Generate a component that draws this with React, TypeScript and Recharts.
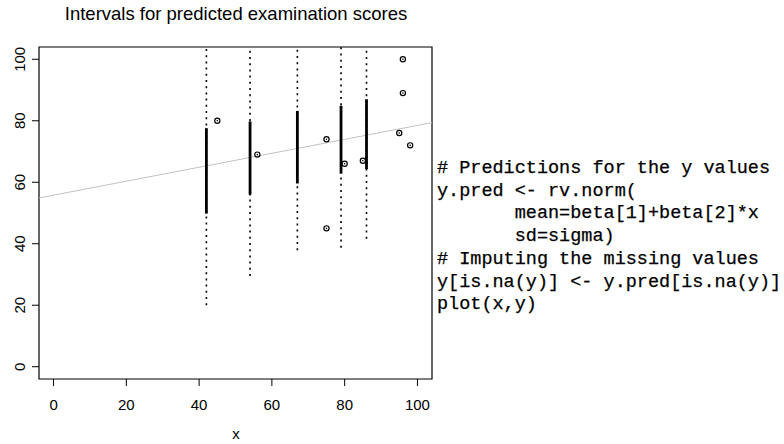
import React from 'react';
import { ScatterChart, Scatter, XAxis, YAxis, ReferenceLine, ReferenceArea } from 'recharts';

// prediction intervals at the missing x values
const predX = [42, 54, 67, 79, 86];
const innerLo = [49.8, 56, 59.6, 62.8, 64.3];
const innerHi = [77.6, 79.8, 83.2, 84.9, 87];
const outerLo = [20, 29.5, 37.9, 38.7, 41.6];
const outerHi = [107, 106, 105, 109, 110];

// observed scores
const obsX = [45, 56, 75, 75, 80, 85, 96, 96, 95, 98];
const obsY = [80, 69, 74, 45, 66, 67, 100, 89, 76, 72];

// fitted line end points
const regX = [-4, 104];
const regY = [54.9, 79.4];

const ticks = [0, 20, 40, 60, 80, 100];

const codeLines = [
  '# Predictions for the y values',
  'y.pred <- rv.norm(',
  '       mean=beta[1]+beta[2]*x',
  '       sd=sigma)',
  '# Imputing the missing values',
  'y[is.na(y)] <- y.pred[is.na(y)]',
  'plot(x,y)',
];

const points = obsX.map((x, i) => ({ x, y: obsY[i] }));

const SANS = '"Liberation Sans", Arial, Helvetica, sans-serif';

const Dot = (props: any) => (
  <g>
    <circle cx={props.cx} cy={props.cy} r={2.6} fill="none" stroke="#000" strokeWidth={1.2} />
    <circle cx={props.cx} cy={props.cy} r={0.8} fill="#000" />
  </g>
);

const XTick = (props: any) => (
  <text x={props.x} y={410} textAnchor="middle" fontSize={15} fontFamily={SANS} fill="#000">
    {props.payload.value}
  </text>
);

const YTick = (props: any) => (
  <text
    x={25}
    y={props.y}
    transform={`rotate(-90, 25, ${props.y})`}
    textAnchor="middle"
    fontSize={15}
    fontFamily={SANS}
    fill="#000"
  >
    {props.payload.value}
  </text>
);

export default function App() {
  return (
    <div style={{ position: 'absolute', left: 0, top: 0, width: 784, height: 444, background: '#fff' }}>
      <ScatterChart width={784} height={444} margin={{ top: 47, right: 352, bottom: 0, left: 0 }}>
        <XAxis
          type="number"
          dataKey="x"
          domain={[-4, 104]}
          ticks={ticks}
          allowDataOverflow
          height={65}
          tickSize={7}
          tick={<XTick />}
          axisLine={false}
          tickLine={{ stroke: '#000' }}
        />
        <YAxis
          type="number"
          dataKey="y"
          domain={[-4, 104]}
          ticks={ticks}
          allowDataOverflow
          width={39}
          tickSize={7}
          tick={<YTick />}
          axisLine={false}
          tickLine={{ stroke: '#000' }}
        />
        <ReferenceLine
          segment={[{ x: regX[0], y: regY[0] }, { x: regX[1], y: regY[1] }]}
          stroke="#c2c2c2"
          strokeWidth={1}
          ifOverflow="hidden"
        />
        {predX.map((x, i) => (
          <ReferenceLine
            key={`o${i}`}
            segment={[{ x, y: outerLo[i] }, { x, y: outerHi[i] }]}
            stroke="#000"
            strokeWidth={1.6}
            strokeDasharray="2 4.2"
            ifOverflow="hidden"
          />
        ))}
        {predX.map((x, i) => (
          <ReferenceLine
            key={`i${i}`}
            segment={[{ x, y: innerLo[i] }, { x, y: innerHi[i] }]}
            stroke="#000"
            strokeWidth={2.8}
            ifOverflow="hidden"
          />
        ))}
        <Scatter data={points} shape={<Dot />} isAnimationActive={false} />
        <ReferenceArea x1={-4} x2={104} y1={-4} y2={104} fill="none" stroke="#000" strokeWidth={1.2} ifOverflow="visible" />
      </ScatterChart>

      <div
        style={{
          position: 'absolute',
          left: 0,
          width: 472,
          top: 3,
          textAlign: 'center',
          fontFamily: SANS,
          fontSize: 18.5,
          lineHeight: '22px',
          color: '#000',
        }}
      >
        Intervals for predicted examination scores
      </div>
      <div
        style={{
          position: 'absolute',
          left: 0,
          width: 472,
          top: 425,
          textAlign: 'center',
          fontFamily: SANS,
          fontSize: 15,
          lineHeight: '18px',
          color: '#000',
        }}
      >
        x
      </div>
      <div
        style={{
          position: 'absolute',
          left: 437,
          top: 158,
          fontFamily: '"Liberation Mono", "DejaVu Sans Mono", monospace',
          fontSize: 18.5,
          lineHeight: '22.7px',
          whiteSpace: 'pre',
          color: '#000',
          WebkitTextStroke: '0.25px #000',
        }}
      >
        {codeLines.map((l, i) => (
          <div key={i}>{l}</div>
        ))}
      </div>
    </div>
  );
}
